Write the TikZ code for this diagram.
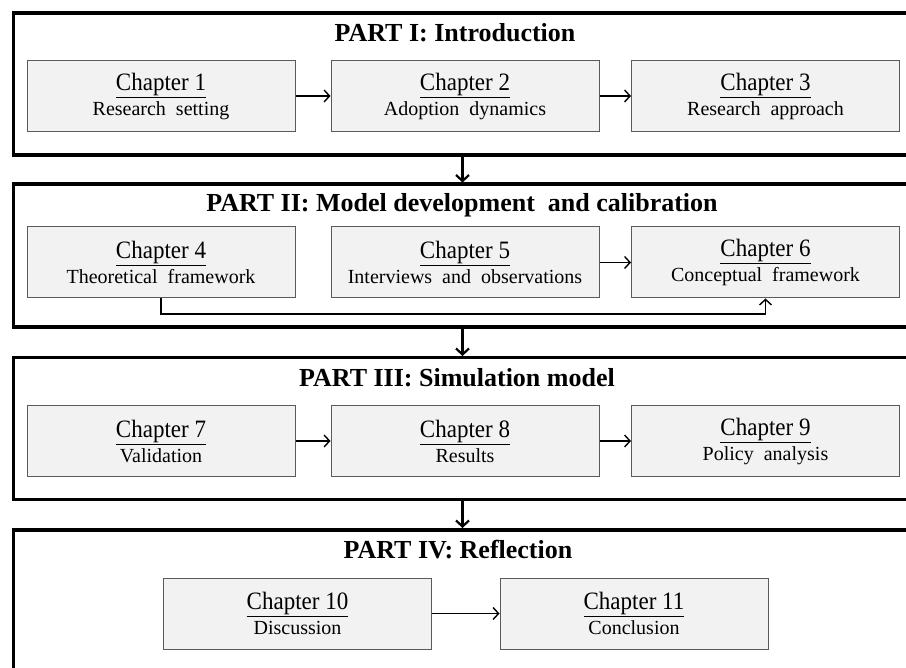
\documentclass[tikz,border=0pt]{standalone}
\usepackage{fontspec}
\setmainfont{Liberation Serif}
\newfontfamily\chapfont[FakeStretch=0.92]{Liberation Serif}
\usetikzlibrary{arrows.meta,calc}
\definecolor{boxfill}{HTML}{F2F2F2}
\definecolor{boxline}{HTML}{5A5A5A}
\tikzset{
  partframe/.style={draw=black, line width=3.5pt, fill=none, inner sep=0pt},
  parttitle/.style={font=\fontsize{26}{30}\selectfont\bfseries, inner sep=0pt},
  chapbox/.style={draw=boxline, line width=1pt, fill=boxfill,
    minimum width=268pt, minimum height=71pt, inner sep=0pt, align=center,
    font=\fontsize{20}{25}\selectfont},
  flow/.style={draw=black, line width=1.4pt, -{Straight Barb[length=5.5pt,width=12pt,line width=1.4pt]}},
  partflow/.style={draw=black, line width=2.2pt, -{Straight Barb[length=6pt,width=13pt,line width=2.2pt]}}
}
\newcommand{\chap}[2]{{\chapfont\fontsize{25}{25}\selectfont\underline{#1}}\\#2}
\begin{document}
\begin{tikzpicture}[x=1pt,y=-1pt]
  \useasboundingbox (0,0) rectangle (906,668);
  \clip (0,0) rectangle (906,668);
  \fill[white] (0,0) rectangle (906,668);

  % part frames (they run off the right edge; the last one off the bottom)
  \node[partframe, minimum width=910pt, minimum height=142pt, anchor=north west] (p1) at (11.5,11.5) {};
  \node[partframe, minimum width=910pt, minimum height=143pt, anchor=north west] (p2) at (11.5,182.5) {};
  \node[partframe, minimum width=910pt, minimum height=142pt, anchor=north west] (p3) at (11.5,356) {};
  \node[partframe, minimum width=910pt, minimum height=200pt, anchor=north west] (p4) at (11.5,528) {};

  % part titles
  \node[parttitle] (t1) at (455,33) {PART I: Introduction};
  \node[parttitle] (t2) at (462,205) {PART II: Model development\ \ and calibration};
  \node[parttitle] (t3) at (457,378) {PART III: Simulation model};
  \node[parttitle] (t4) at (458,550) {PART IV: Reflection};

  % chapters
  \node[chapbox] (c1) at (161,96)   {\chap{Chapter 1}{Research\ \ setting}};
  \node[chapbox] (c2) at (465,96)   {\chap{Chapter 2}{Adoption\ \ dynamics}};
  \node[chapbox] (c3) at (765.5,96) {\chap{Chapter 3}{Research\ \ approach}};

  \node[chapbox] (c4) at (161,262.5)   {\chap{Chapter 4}{Theoretical\ \ framework}};
  \node[chapbox] (c5) at (465,262.5)   {\chap{Chapter 5}{Interviews\ \ and\ \ observations}};
  \node[chapbox] (c6) at (765.5,262.5) {\chap{Chapter 6}{Conceptual\ \ framework}};

  \node[chapbox] (c7) at (161,441)   {\chap{Chapter 7}{Validation}};
  \node[chapbox] (c8) at (465,441)   {\chap{Chapter 8}{Results}};
  \node[chapbox] (c9) at (765.5,441) {\chap{Chapter 9}{Policy\ \ analysis}};

  \node[chapbox] (c10) at (297.5,613.5) {\chap{Chapter 10}{Discussion}};
  \node[chapbox] (c11) at (634,613.5)   {\chap{Chapter 11}{Conclusion}};

  % chapter connectors
  \draw[flow] (c1) -- (c2);
  \draw[flow] (c2) -- (c3);
  \draw[flow] (c5) -- (c6);
  \draw[flow] (c4.south) -- ++(0,15.5) -| (c6.south);
  \draw[flow] (c7) -- (c8);
  \draw[flow] (c8) -- (c9);
  \draw[flow] (c10) -- (c11);

  % part connectors
  \draw[partflow] ($(p1.south -| c2.center)+(-2.5,0)$) -- ($(p2.north -| c2.center)+(-2.5,0)$);
  \draw[partflow] ($(p2.south -| c2.center)+(-2.5,0)$) -- ($(p3.north -| c2.center)+(-2.5,0)$);
  \draw[partflow] ($(p3.south -| c2.center)+(-2.5,0)$) -- ($(p4.north -| c2.center)+(-2.5,0)$);
\end{tikzpicture}
\end{document}
